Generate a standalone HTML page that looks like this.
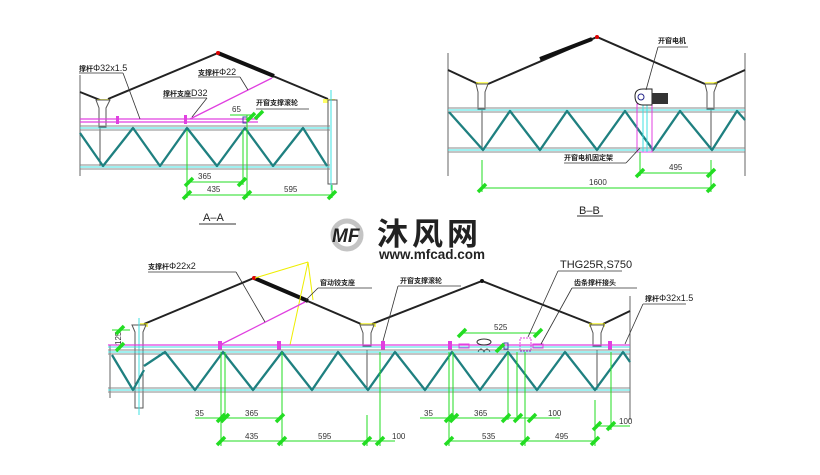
<!DOCTYPE html>
<html><head><meta charset="utf-8"><style>
html,body{margin:0;padding:0;background:#fff;width:820px;height:475px;overflow:hidden}
svg{display:block}
text{font-family:"Liberation Sans","Noto Sans CJK SC",sans-serif;fill:#222}
.cn{font-size:7px;font-weight:bold}
.d{font-size:8px;fill:#333}
.roof{stroke:#222;stroke-width:2;fill:none}
.tr{stroke:#1f8080;stroke-width:2.3;fill:none;stroke-linejoin:round}
.ch{stroke:#888;stroke-width:1;fill:none}
.cy{stroke:#3fe0e0;stroke-width:1;fill:none}
.pk{stroke:#e040e0;stroke-width:1.3;fill:none}
.g{stroke:#22dd22;stroke-width:1;fill:none}
.gt{stroke:#22dd22;stroke-width:3.5}
.ld{stroke:#333;stroke-width:0.8;fill:none}
.col{stroke:#555;stroke-width:1;fill:#fff}
</style></head><body>
<svg width="820" height="475" viewBox="0 0 820 475" xmlns="http://www.w3.org/2000/svg">
<defs>
<g id="tk"><line x1="-4" y1="4" x2="4" y2="-4" class="gt"/></g>
</defs>

<!-- ========== A-A ========== -->
<line x1="80" y1="75" x2="80" y2="176" stroke="#666" stroke-width="1"/>
<polyline class="roof" points="80,92 100,100"/>
<polyline class="roof" points="108,99 218,53 328,99"/>
<line x1="218" y1="53" x2="274" y2="76" stroke="#111" stroke-width="4"/>
<circle cx="218" cy="53" r="2" fill="#d00"/>
<rect x="97" y="99" width="12" height="4" fill="#ff0" opacity=".6"/>
<rect x="323" y="99" width="12" height="4" fill="#ff0" opacity=".6"/>
<path d="M96,100 L110,100 L106,108 L106,127 L99,127 L99,108 Z" class="col"/>
<line x1="100" y1="127" x2="100" y2="166" stroke="#555"/>
<rect x="328" y="100" width="9" height="84" class="col"/>
<line x1="331" y1="90" x2="331" y2="190" class="cy"/>
<line x1="80" y1="119" x2="258" y2="119" class="pk"/>
<line x1="80" y1="122" x2="258" y2="122" class="pk"/>
<line x1="190" y1="119" x2="272" y2="78" class="pk" stroke-width="2"/>
<rect x="116" y="116" width="3" height="8" fill="#e040e0"/>
<rect x="184" y="115" width="3" height="9" fill="#e040e0"/>
<rect x="243" y="117" width="4" height="6" fill="none" stroke="#44a"/>
<line x1="80" y1="126" x2="330" y2="126" class="ch"/>
<line x1="80" y1="128" x2="330" y2="128" class="cy"/>
<line x1="80" y1="130" x2="330" y2="130" class="ch"/>
<line x1="80" y1="165" x2="330" y2="165" class="ch"/>
<line x1="80" y1="167" x2="330" y2="167" class="cy"/>
<line x1="80" y1="169" x2="330" y2="169" class="ch"/>
<polyline class="tr" points="80,133 103,166 133,128 160,166 187,128 217,166 245,128 273,166 303,128 327,166"/>
<line x1="187" y1="130" x2="187" y2="198" class="g"/>
<line x1="243" y1="130" x2="243" y2="185" class="g"/>
<line x1="247" y1="115" x2="247" y2="198" class="g"/>
<line x1="332" y1="185" x2="332" y2="198" class="g"/>
<line x1="187" y1="182" x2="243" y2="182" class="g"/>
<line x1="187" y1="195" x2="332" y2="195" class="g"/>
<line x1="230" y1="115" x2="252" y2="115" class="g"/>
<use href="#tk" x="189" y="182"/><use href="#tk" x="242" y="182"/>
<use href="#tk" x="187" y="195"/><use href="#tk" x="247" y="195"/><use href="#tk" x="332" y="195"/>
<use href="#tk" x="251" y="117"/><use href="#tk" x="259" y="115"/>
<text x="198" y="179" class="d">365</text>
<text x="207" y="192" class="d">435</text>
<text x="284" y="192" class="d">595</text>
<text x="232" y="112" class="d">65</text>
<text x="79" y="71" class="cn">撑杆<tspan font-size="9" font-weight="normal">Φ32x1.5</tspan></text>
<line x1="79" y1="73" x2="123" y2="73" class="ld"/><line x1="123" y1="73" x2="140" y2="119" class="ld"/>
<text x="198" y="75" class="cn">支撑杆<tspan font-size="9" font-weight="normal">Φ22</tspan></text>
<line x1="198" y1="77" x2="240" y2="77" class="ld"/><line x1="240" y1="77" x2="248" y2="90" class="ld"/>
<text x="163" y="96" class="cn">撑杆支座<tspan font-size="9" font-weight="normal">D32</tspan></text>
<line x1="163" y1="98" x2="207" y2="98" class="ld"/><line x1="207" y1="98" x2="192" y2="117" class="ld"/>
<text x="256" y="105" class="cn">开窗支撑滚轮</text>
<line x1="256" y1="109" x2="309" y2="109" class="ld"/>
<text x="203" y="221" font-size="11">A–A</text>
<line x1="199" y1="224" x2="236" y2="224" stroke="#333"/>

<!-- ========== B-B ========== -->
<line x1="448" y1="53" x2="448" y2="176" stroke="#666"/>
<line x1="745" y1="53" x2="745" y2="176" stroke="#666"/>
<polyline class="roof" points="448,70 478,84"/>
<polyline class="roof" points="488,84 597,37 705,84"/>
<polyline class="roof" points="714,84 745,70"/>
<line x1="540" y1="59" x2="592" y2="39" stroke="#111" stroke-width="4"/>
<circle cx="597" cy="37" r="2" fill="#d00"/>
<rect x="476" y="82" width="12" height="5" fill="#ff0" opacity=".6"/>
<rect x="705" y="82" width="12" height="5" fill="#ff0" opacity=".6"/>
<path d="M476,84 L488,84 L485,92 L485,109 L478,109 L478,92 Z" class="col"/>
<path d="M705,84 L717,84 L714,92 L714,109 L707,109 L707,92 Z" class="col"/>
<line x1="482" y1="110" x2="482" y2="150" stroke="#555"/>
<line x1="711" y1="110" x2="711" y2="150" stroke="#555"/>
<line x1="448" y1="108" x2="745" y2="108" class="ch"/>
<line x1="448" y1="110" x2="745" y2="110" class="cy"/>
<line x1="448" y1="112" x2="745" y2="112" class="ch"/>
<line x1="448" y1="148" x2="745" y2="148" class="ch"/>
<line x1="448" y1="150" x2="745" y2="150" class="cy"/>
<line x1="448" y1="152" x2="745" y2="152" class="ch"/>
<polyline class="tr" points="449,112 483,150 510,111 540,150 567,111 597,150 625,111 653,150 680,111 712,150 737,111 745,120"/>
<rect x="637" y="104" width="15" height="48" fill="none" stroke="#e040e0"/>
<line x1="643" y1="104" x2="643" y2="152" class="cy"/><line x1="647" y1="104" x2="647" y2="152" class="cy"/>
<path d="M635,96 Q635,89 643,89 L652,89 L652,105 L643,105 Q635,105 635,96 Z" fill="#fff" stroke="#222"/>
<circle cx="641" cy="97" r="3" fill="none" stroke="#228"/>
<rect x="652" y="93" width="16" height="11" fill="#333"/>
<line x1="482" y1="160" x2="482" y2="192" class="g"/>
<line x1="711" y1="160" x2="711" y2="192" class="g"/>
<line x1="640" y1="152" x2="640" y2="176" class="g"/>
<line x1="640" y1="173" x2="711" y2="173" class="g"/>
<line x1="482" y1="188" x2="711" y2="188" class="g"/>
<use href="#tk" x="640" y="173"/><use href="#tk" x="711" y="173"/>
<use href="#tk" x="482" y="188"/><use href="#tk" x="711" y="188"/>
<text x="669" y="170" class="d">495</text>
<text x="589" y="185" class="d">1600</text>
<text x="658" y="43" class="cn">开窗电机</text>
<line x1="658" y1="47" x2="688" y2="47" class="ld"/><line x1="658" y1="47" x2="646" y2="90" class="ld"/>
<text x="564" y="160" class="cn">开窗电机固定架</text>
<line x1="564" y1="163" x2="626" y2="163" class="ld"/><line x1="626" y1="163" x2="640" y2="148" class="ld"/>
<text x="579" y="214" font-size="11">B–B</text>
<line x1="577" y1="216" x2="603" y2="216" stroke="#333"/>

<!-- watermark -->
<g>
<circle cx="347" cy="235" r="14" fill="none" stroke="#c4c4c4" stroke-width="5"/>
<text x="332" y="242" font-size="19" font-weight="bold" fill="#b8b8b8" font-style="italic">MF</text>
<text x="377" y="245" font-size="31" font-weight="bold" fill="#c2c2c2" letter-spacing="4" style="font-family:'Noto Sans CJK SC',sans-serif">沐风网</text>
<text x="379" y="259" font-size="13.5" font-weight="bold" fill="#c2c2c2">www.mfcad.com</text>
</g>

<!-- ========== Bottom ========== -->
<line x1="110" y1="345" x2="110" y2="398" stroke="#666"/>
<line x1="630" y1="296" x2="630" y2="420" stroke="#666"/>
<polyline class="roof" points="144,324 254,278 361,324"/>
<polyline class="roof" points="372,324 482,281 592,324"/>
<polyline class="roof" points="603,324 630,311"/>
<line x1="254" y1="278" x2="308" y2="301" stroke="#111" stroke-width="4"/>
<circle cx="254" cy="278" r="2" fill="#d00"/>
<circle cx="482" cy="281" r="2" fill="#111"/>
<line x1="308" y1="262" x2="255" y2="278" stroke="#ee0"/>
<line x1="308" y1="262" x2="290" y2="345" stroke="#ee0"/>
<line x1="308" y1="262" x2="313" y2="300" stroke="#ee0"/>
<rect x="140" y="323" width="8" height="4" fill="#ee0" opacity=".6"/>
<rect x="360" y="323" width="16" height="4" fill="#ee0" opacity=".6"/>
<rect x="589" y="323" width="16" height="4" fill="#ee0" opacity=".6"/>
<path d="M132,325 L146,325 L143,332 L143,408 L135,408 L135,332 Z" class="col"/>
<line x1="139" y1="318" x2="139" y2="415" class="cy"/>
<path d="M360,325 L374,325 L371,333 L371,346 L363,346 L363,333 Z" class="col"/>
<line x1="367" y1="350" x2="367" y2="390" stroke="#555"/>
<path d="M590,325 L604,325 L601,333 L601,346 L593,346 L593,333 Z" class="col"/>
<line x1="597" y1="350" x2="597" y2="390" stroke="#555"/>
<line x1="108" y1="345" x2="630" y2="345" class="pk"/>
<line x1="108" y1="347" x2="630" y2="347" class="cy"/>
<line x1="220" y1="345" x2="305" y2="302" class="pk" stroke-width="2"/>
<rect x="218" y="341" width="4" height="9" fill="#e040e0"/>
<rect x="277" y="341" width="4" height="9" fill="#e040e0"/>
<rect x="381" y="341" width="4" height="9" fill="#e040e0"/>
<rect x="448" y="341" width="4" height="9" fill="#e040e0"/>
<rect x="459" y="344" width="10" height="4" fill="none" stroke="#e040e0"/>
<ellipse cx="484" cy="342" rx="7" ry="3" fill="none" stroke="#333"/>
<path d="M478,352 Q481,346 484,352 Q487,346 490,352" fill="none" stroke="#333"/>
<rect x="504" y="343" width="4" height="6" fill="none" stroke="#44a"/>
<rect x="520" y="338" width="11" height="13" fill="none" stroke="#e040e0" stroke-dasharray="2,1"/>
<rect x="533" y="344" width="10" height="4" fill="none" stroke="#e040e0"/>
<rect x="608" y="341" width="4" height="9" fill="#e040e0"/>
<line x1="108" y1="350" x2="630" y2="350" class="ch"/>
<line x1="108" y1="352" x2="630" y2="352" class="cy"/>
<line x1="108" y1="354" x2="630" y2="354" class="ch"/>
<line x1="108" y1="388" x2="630" y2="388" class="ch"/>
<line x1="108" y1="390" x2="630" y2="390" class="cy"/>
<line x1="108" y1="392" x2="630" y2="392" class="ch"/>
<polyline class="tr" points="112,355 133,390 144,370"/>
<polyline class="tr" points="144,366 165,352 195,390 223,352 253,390 282,352 312,390 338,352 368,390 395,352 425,390 452,352 480,390 508,352 537,390 565,352 595,390 623,352 630,362"/>
<line x1="221" y1="352" x2="221" y2="446" class="g"/>
<line x1="225" y1="352" x2="225" y2="420" class="g"/>
<line x1="282" y1="352" x2="282" y2="446" class="g"/>
<line x1="367" y1="415" x2="367" y2="446" class="g"/>
<line x1="380" y1="352" x2="380" y2="446" class="g"/>
<line x1="195" y1="418" x2="282" y2="418" class="g"/>
<line x1="221" y1="441" x2="395" y2="441" class="g"/>
<use href="#tk" x="221" y="418"/><use href="#tk" x="225" y="418"/><use href="#tk" x="280" y="418"/>
<use href="#tk" x="221" y="441"/><use href="#tk" x="282" y="441"/><use href="#tk" x="367" y="441"/><use href="#tk" x="380" y="441"/>
<text x="195" y="416" class="d">35</text>
<text x="245" y="416" class="d">365</text>
<text x="245" y="439" class="d">435</text>
<text x="318" y="439" class="d">595</text>
<text x="392" y="439" class="d">100</text>
<text transform="translate(121,345) rotate(-90)" class="d">125</text>
<line x1="112" y1="330" x2="130" y2="330" class="g"/>
<use href="#tk" x="120" y="330"/><use href="#tk" x="120" y="347"/>
<line x1="449" y1="352" x2="449" y2="446" class="g"/>
<line x1="453" y1="352" x2="453" y2="420" class="g"/>
<line x1="508" y1="352" x2="508" y2="420" class="g"/>
<line x1="517" y1="352" x2="517" y2="420" class="g"/>
<line x1="525" y1="352" x2="525" y2="446" class="g"/>
<line x1="595" y1="400" x2="595" y2="446" class="g"/>
<line x1="611" y1="352" x2="611" y2="430" class="g"/>
<line x1="420" y1="418" x2="560" y2="418" class="g"/>
<line x1="449" y1="441" x2="595" y2="441" class="g"/>
<line x1="595" y1="426" x2="630" y2="426" class="g"/>
<line x1="462" y1="333" x2="538" y2="333" class="g"/>
<use href="#tk" x="462" y="333"/><use href="#tk" x="538" y="333"/><use href="#tk" x="500" y="348"/>
<use href="#tk" x="449" y="418"/><use href="#tk" x="454" y="418"/><use href="#tk" x="506" y="418"/><use href="#tk" x="518" y="418"/><use href="#tk" x="532" y="418"/>
<use href="#tk" x="449" y="441"/><use href="#tk" x="525" y="441"/><use href="#tk" x="595" y="441"/>
<use href="#tk" x="597" y="426"/><use href="#tk" x="611" y="426"/>
<text x="424" y="416" class="d">35</text>
<text x="474" y="416" class="d">365</text>
<text x="548" y="416" class="d">100</text>
<text x="482" y="439" class="d">535</text>
<text x="555" y="439" class="d">495</text>
<text x="619" y="424" class="d">100</text>
<text x="494" y="330" class="d">525</text>
<text x="148" y="269" class="cn">支撑杆<tspan font-size="9" font-weight="normal">Φ22x2</tspan></text>
<line x1="148" y1="272" x2="236" y2="272" class="ld"/><line x1="236" y1="272" x2="265" y2="322" class="ld"/>
<text x="320" y="285" class="cn">窗动铰支座</text>
<line x1="318" y1="288" x2="372" y2="288" class="ld"/><line x1="318" y1="288" x2="306" y2="300" class="ld"/>
<text x="400" y="283" class="cn">开窗支撑滚轮</text>
<line x1="398" y1="286" x2="461" y2="286" class="ld"/><line x1="398" y1="286" x2="383" y2="341" class="ld"/>
<text x="560" y="268" font-size="11" fill="#333">THG25R,S750</text>
<line x1="558" y1="271" x2="622" y2="271" class="ld"/><line x1="558" y1="271" x2="528" y2="337" class="ld"/>
<text x="574" y="285" class="cn">齿条撑杆接头</text>
<line x1="572" y1="288" x2="637" y2="288" class="ld"/><line x1="572" y1="288" x2="541" y2="344" class="ld"/>
<text x="645" y="301" class="cn">撑杆<tspan font-size="9" font-weight="normal">Φ32x1.5</tspan></text>
<line x1="643" y1="304" x2="686" y2="304" class="ld"/><line x1="643" y1="304" x2="625" y2="344" class="ld"/>
</svg>
</body></html>
